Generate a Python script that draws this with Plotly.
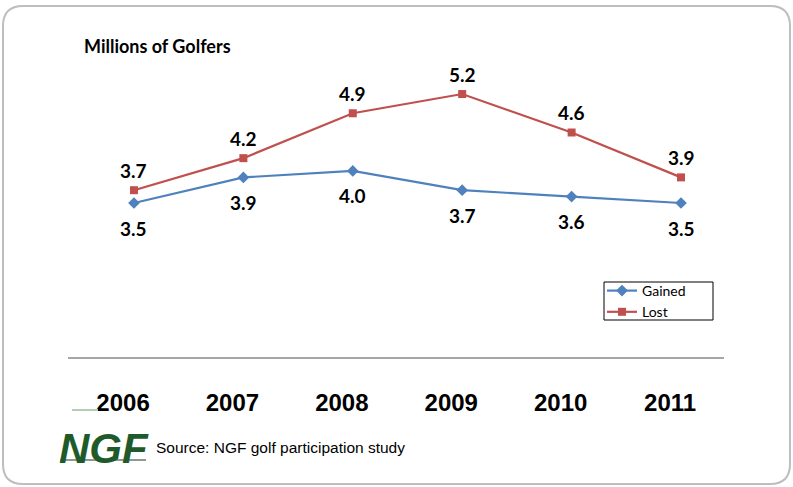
import plotly.graph_objects as go

years = ["2006", "2007", "2008", "2009", "2010", "2011"]
gained = [3.5, 3.9, 4.0, 3.7, 3.6, 3.5]
lost = [3.7, 4.2, 4.9, 5.2, 4.6, 3.9]

W, H = 793, 487
L, R, T, B = 68, 69, 40, 130
PW, PH = W - L - R, H - T - B

def px_x(p):
    return (p - L) / PW

def px_y(p):
    return (H - B - p) / PH

BLUE = "#4F81BD"
RED = "#C0504D"
LABEL_FONT = "Lato, Carlito, Calibri, sans-serif"

xs = list(range(len(years)))

fig = go.Figure()
fig.add_trace(go.Scatter(
    x=xs, y=gained, name="Gained", mode="lines+markers",
    line=dict(color=BLUE, width=2.2),
    marker=dict(symbol="diamond", size=9, color=BLUE),
))
fig.add_trace(go.Scatter(
    x=xs, y=lost, name="Lost", mode="lines+markers",
    line=dict(color=RED, width=2.2),
    marker=dict(symbol="square", size=8, color=RED),
))

annotations = []
for x, v in zip(xs, lost):
    annotations.append(dict(x=x, y=v, xref="x", yref="y", text=f"{v:.1f}",
                            showarrow=False, yshift=20,
                            font=dict(family=LABEL_FONT, size=19, color="black", weight="bold")))
for x, v in zip(xs, gained):
    annotations.append(dict(x=x, y=v, xref="x", yref="y", text=f"{v:.1f}",
                            showarrow=False, yshift=-25,
                            font=dict(family=LABEL_FONT, size=19, color="black", weight="bold")))

annotations.append(dict(x=px_x(82), y=px_y(46), xref="paper", yref="paper",
                        xanchor="left", yanchor="middle", showarrow=False,
                        text="<b>Millions of Golfers</b>",
                        font=dict(family=LABEL_FONT, size=18, color="black")))
annotations.append(dict(x=px_x(154), y=px_y(447), xref="paper", yref="paper",
                        xanchor="left", yanchor="middle", showarrow=False,
                        text="Source: NGF golf participation study",
                        font=dict(family="Liberation Sans, Arial, sans-serif", size=15.5, color="black")))
annotations.append(dict(x=px_x(57), y=px_y(448), xref="paper", yref="paper",
                        xanchor="left", yanchor="middle", showarrow=False,
                        text="<b><i>NGF</i></b>",
                        font=dict(family="Liberation Sans, Arial, sans-serif", size=42, color="#1E5A2A")))

shapes = []
# rounded border
x0, y0, x1, y1, r = 3, 6, 790, 484, 20
def P(px, py):
    return f"{px_x(px):.5f},{px_y(py):.5f}"
path = (f"M {P(x0 + r, y0)} L {P(x1 - r, y0)} Q {P(x1, y0)} {P(x1, y0 + r)} "
        f"L {P(x1, y1 - r)} Q {P(x1, y1)} {P(x1 - r, y1)} "
        f"L {P(x0 + r, y1)} Q {P(x0, y1)} {P(x0, y1 - r)} "
        f"L {P(x0, y0 + r)} Q {P(x0, y0)} {P(x0 + r, y0)} Z")
shapes.append(dict(type="path", path=path, xref="paper", yref="paper",
                   line=dict(color="#BDBDC2", width=2), layer="below"))
# legend box
shapes.append(dict(type="rect", xref="paper", yref="paper",
                   x0=px_x(604), x1=px_x(713), y0=px_y(282), y1=px_y(320),
                   line=dict(color="black", width=1), fillcolor="white", layer="below"))
# logo underline and faint green stroke
shapes.append(dict(type="line", xref="paper", yref="paper",
                   x0=px_x(60), x1=px_x(146), y0=px_y(460), y1=px_y(460),
                   line=dict(color="#8E9C90", width=2)))
shapes.append(dict(type="line", xref="paper", yref="paper",
                   x0=px_x(72), x1=px_x(98), y0=px_y(410), y1=px_y(410),
                   line=dict(color="#B5CCB5", width=2)))

fig.update_layout(
    width=W, height=H,
    margin=dict(l=L, r=R, t=T, b=B),
    paper_bgcolor="white", plot_bgcolor="white",
    showlegend=True,
    legend=dict(x=px_x(602), y=px_y(275), xanchor="left", yanchor="top",
                bgcolor="rgba(0,0,0,0)", borderwidth=0,
                font=dict(family=LABEL_FONT, size=14, color="black"),
                tracegroupgap=0, itemwidth=30),
    annotations=annotations,
    shapes=shapes,
    xaxis=dict(range=[-0.603, 5.393], tickvals=[x - 0.1 for x in xs], ticktext=years,
               showgrid=False, zeroline=False, showline=True, linecolor="#A6A6A6", linewidth=1.5,
               ticks="", ticklabelstandoff=23,
               tickfont=dict(family="Liberation Sans, Arial, sans-serif", size=24, color="black", weight="bold"),
               fixedrange=True),
    yaxis=dict(range=[1.098, 6.043], visible=False, showgrid=False, zeroline=False, fixedrange=True),
)

fig.write_html("out.html")
